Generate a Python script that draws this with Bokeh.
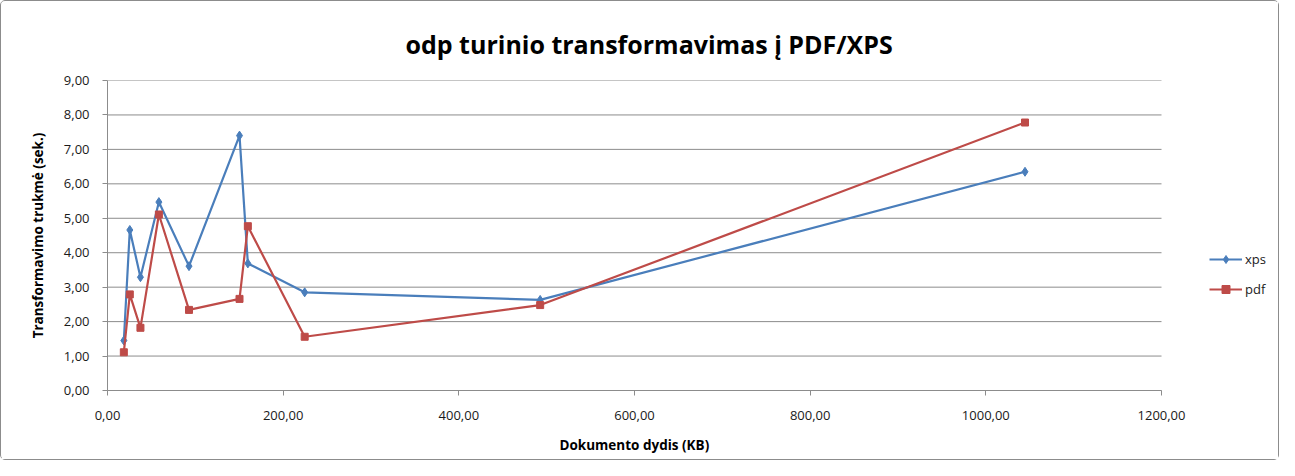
from bokeh.plotting import figure
from bokeh.models import (Legend, LegendItem, CustomJSTickFormatter, FixedTicker, Range1d, Title)
from bokeh.embed import file_html
from bokeh.resources import INLINE

dydis_kb = [18.6, 25.4, 37.5, 58.5, 92.8, 150.3, 159.8, 224.5, 492.6, 1044.6]
xps = [1.45, 4.66, 3.29, 5.47, 3.61, 7.40, 3.69, 2.85, 2.63, 6.35]
pdf = [1.11, 2.79, 1.82, 5.11, 2.34, 2.66, 4.77, 1.56, 2.48, 7.78]
x_ticks = [0, 200, 400, 600, 800, 1000, 1200]
y_ticks = [0, 1, 2, 3, 4, 5, 6, 7, 8, 9]

FONT = "Open Sans"
W, H = 1279, 460
LEFT, TOP, BOTTOM = 106, 79, 71
AXIS_PX = 1054  # pixel length of the 0..1200 axis
x_end = x_ticks[-1] * (W - LEFT) / AXIS_PX  # frame extends right to hold the legend

p = figure(width=W, height=H, output_backend="svg", toolbar_location=None,
           x_range=Range1d(0, x_end), y_range=Range1d(y_ticks[0], y_ticks[-1]),
           min_border_left=LEFT, min_border_right=0, min_border_top=TOP, min_border_bottom=BOTTOM)
p.styles = {"border": "1px solid #8c8c8c", "border-radius": "5px"}
p.title = Title(text="odp turinio transformavimas į PDF/XPS", align="left", offset=298,
                text_font=FONT, text_font_size="25px", text_font_style="bold", text_color="#000000",
                standoff=40)
p.outline_line_color = None
p.xgrid.grid_line_color = None
p.ygrid.grid_line_color = None

# horizontal gridlines limited to the axis extent
p.segment(x0=[x_ticks[0]] * len(y_ticks), x1=[x_ticks[-1]] * len(y_ticks),
          y0=y_ticks, y1=y_ticks, line_color="#8c8c8c", line_width=1)

fmt = CustomJSTickFormatter(code="return tick.toFixed(2).replace('.', ',');")
for ax, ticks in ((p.xaxis[0], x_ticks), (p.yaxis[0], y_ticks)):
    ax.ticker = FixedTicker(ticks=ticks)
    ax.formatter = fmt
    ax.bounds = (ticks[0], ticks[-1])
    ax.axis_line_color = "#8c8c8c"
    ax.major_tick_line_color = "#8c8c8c"
    ax.minor_tick_line_color = None
    ax.major_tick_in = 0
    ax.major_tick_out = 5
    ax.major_label_text_font = FONT
    ax.major_label_text_font_size = "13px"
    ax.major_label_text_color = "#1a1a1a"
    ax.axis_label_text_font = FONT
    ax.axis_label_text_font_size = "13.5px"
    ax.axis_label_text_font_style = "bold"
    ax.axis_label_text_color = "#000000"

# x axis label: trailing no-break spaces centre it under the 0..1200 part of the frame
p.xaxis.axis_label = "Dokumento dydis (KB)" + "\u00a0" * 34
p.xaxis.major_label_standoff = 15
p.xaxis.axis_label_standoff = 13
p.yaxis.axis_label = "Transformavimo trukmė (sek.)"
p.yaxis.major_label_standoff = 13
p.yaxis.axis_label_standoff = 14

blue = "#4A7EBB"
red = "#BE4B48"
l1 = p.line(dydis_kb, xps, line_color=blue, line_width=2.2)
s1 = p.scatter(dydis_kb, xps, marker="diamond", size=9, fill_color=blue, line_color=blue)
l2 = p.line(dydis_kb, pdf, line_color=red, line_width=2.2)
s2 = p.scatter(dydis_kb, pdf, marker="square", size=7, fill_color=red, line_color=red)

legend = Legend(items=[LegendItem(label="xps", renderers=[l1, s1]),
                       LegendItem(label="pdf", renderers=[l2, s2])],
                location=(1102, 91), orientation="vertical",
                glyph_width=33, glyph_height=20, spacing=10, label_standoff=3,
                label_text_font=FONT, label_text_font_size="13px", label_text_color="#1a1a1a",
                border_line_color=None, background_fill_alpha=0, padding=4, margin=0)
p.add_layout(legend, "center")

open("out.html", "w").write(file_html(p, INLINE))
